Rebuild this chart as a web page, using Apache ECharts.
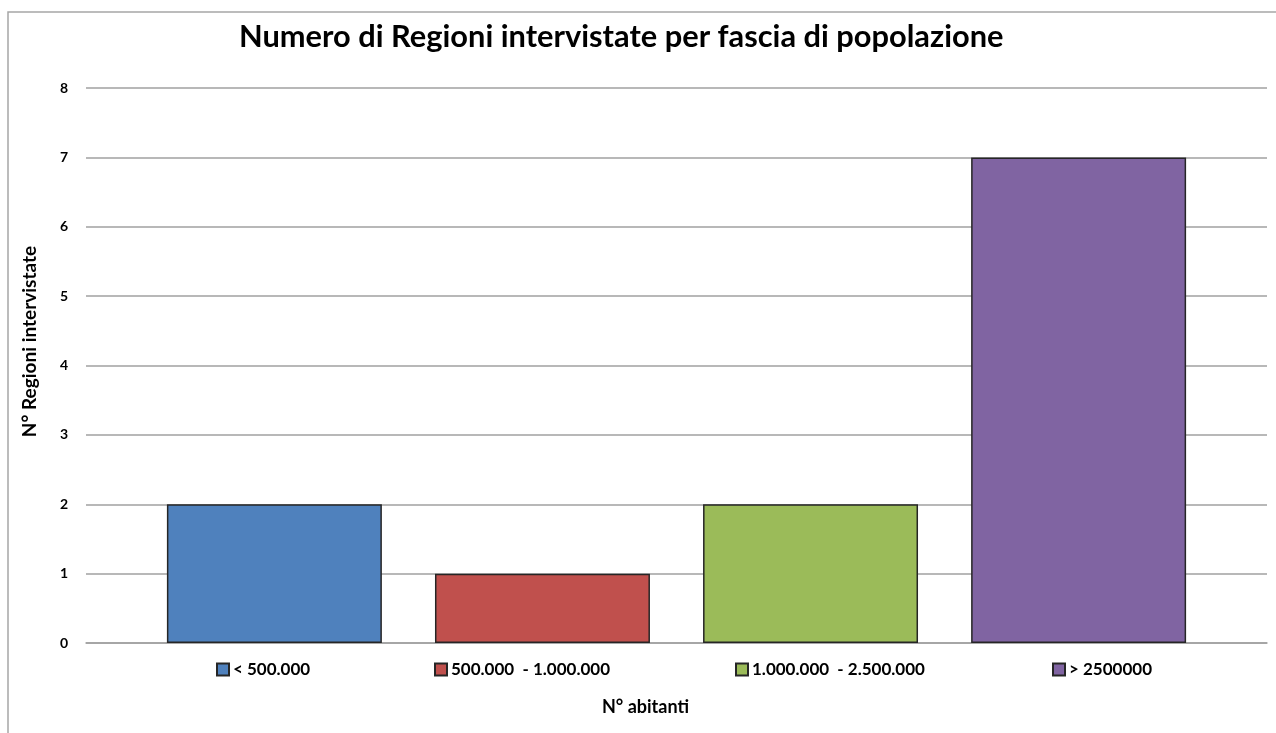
<!DOCTYPE html>
<html>
<head>
<meta charset="utf-8">
<script src="https://cdn.jsdelivr.net/npm/echarts@6/dist/echarts.min.js"></script>
<style>
html,body{margin:0;padding:0;background:#fff;}
#chart{width:1276px;height:733px;}
</style>
</head>
<body>
<div id="chart"></div>
<script>
const titleText = 'Numero di Regioni intervistate per fascia di popolazione';
const categories = [''];
const seriesNames = ['< 500.000', '500.000  - 1.000.000', '1.000.000  - 2.500.000', '> 2500000'];
const seriesValues = [2, 1, 2, 7];
const seriesColors = ['#4F81BD', '#C0504D', '#9BBB59', '#8064A2'];
const yTicks = [0, 1, 2, 3, 4, 5, 6, 7, 8];
const legendLefts = [216, 434, 735, 1052];

const FONT = 'Lato';
const chart = echarts.init(document.getElementById('chart'));

const series = seriesNames.map((n, i) => ({
  name: n,
  type: 'bar',
  data: [seriesValues[i]],
  barGap: '24.7%',
  barCategoryGap: '13.7%',
  itemStyle: { color: seriesColors[i], borderColor: '#262626', borderWidth: 1.5 },
  emphasis: { disabled: true }
}));

const legends = seriesNames.map((n, i) => ({
  data: [n],
  left: legendLefts[i],
  top: 661,
  padding: 0,
  itemWidth: 12,
  itemHeight: 12,
  itemGap: 0,
  icon: 'rect',
  textStyle: { fontFamily: FONT, fontWeight: 'bold', fontSize: 17, color: '#000', padding: [0, 0, 0, -1] }
}));

chart.setOption({
  animation: false,
  backgroundColor: '#fff',
  title: {
    text: titleText,
    left: 234,
    top: 17,
    textStyle: { fontFamily: FONT, fontWeight: 'bold', fontSize: 30.8, color: '#000' }
  },
  graphic: [{
    type: 'rect',
    shape: { x: 8, y: 12, width: 1400, height: 900 },
    style: { fill: 'none', stroke: '#a6a6a6', lineWidth: 1.5 },
    silent: true
  }],
  legend: legends,
  grid: { left: 86, right: 9, top: 88, bottom: 90 },
  xAxis: {
    type: 'category',
    data: categories,
    name: 'N° abitanti',
    nameLocation: 'middle',
    nameGap: 55,
    nameTextStyle: { fontFamily: FONT, fontWeight: 'bold', fontSize: 18, color: '#000', padding: [0, 62, 0, 0] },
    axisLine: { show: true, lineStyle: { color: '#a0a0a0', width: 1.5 } },
    axisTick: { show: false },
    axisLabel: { show: false }
  },
  yAxis: {
    type: 'value',
    min: yTicks[0],
    max: yTicks[yTicks.length - 1],
    interval: 1,
    name: 'N° Regioni intervistate',
    nameLocation: 'middle',
    nameGap: 47,
    nameTextStyle: { fontFamily: FONT, fontWeight: 'bold', fontSize: 19, color: '#000', padding: [0, 0, 0, 48] },
    axisLine: { show: false },
    axisTick: { show: false },
    axisLabel: { margin: 18, fontFamily: FONT, fontWeight: 'bold', fontSize: 14, color: '#000' },
    splitLine: { lineStyle: { color: '#a0a0a0', width: 1.5 } }
  },
  series: series
});
</script>
</body>
</html>
